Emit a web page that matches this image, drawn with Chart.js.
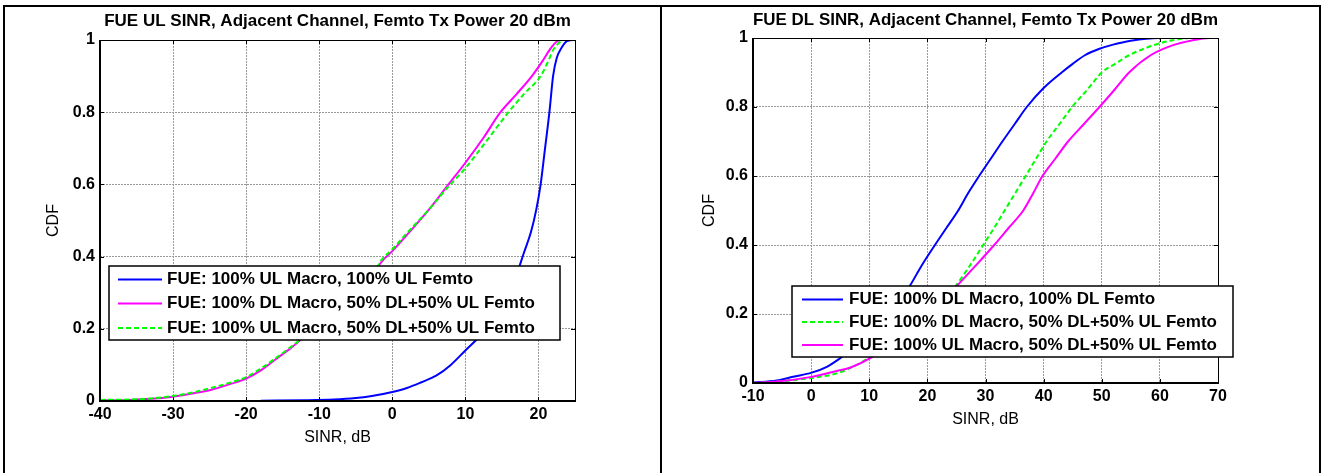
<!DOCTYPE html>
<html>
<head>
<meta charset="utf-8">
<script src="https://cdn.jsdelivr.net/npm/chart.js@4.4.1/dist/chart.umd.min.js"></script>
<style>
  body { margin: 0; background: #fff; width: 1321px; height: 473px; overflow: hidden; position: relative; }
  #frame { position: absolute; left: 3px; top: 5px; width: 1314px; height: 600px; border: 2px solid #000; }
  #divider { position: absolute; left: 660px; top: 5px; width: 2px; height: 600px; background: #000; }
  canvas { position: absolute; top: 0; }
</style>
</head>
<body>
<div id="frame"></div>
<div id="divider"></div>
<canvas id="ulChart" width="661" height="473" style="left:0"></canvas>
<canvas id="dlChart" width="660" height="473" style="left:661px"></canvas>
<script>
// ---- left panel: FUE UL SINR ----
const ulTitle = 'FUE UL SINR, Adjacent Channel, Femto Tx Power 20 dBm';
const ulLabels = [
  'FUE: 100% UL Macro, 100% UL Femto',
  'FUE: 100% DL Macro, 50% DL+50% UL Femto',
  'FUE: 100% UL Macro, 50% DL+50% UL Femto'
];
const ulBlueX = [-18, -12, -8, -5, -3, 0, 2, 4, 6, 8, 10, 12, 14, 15.5, 17, 18, 19, 19.7, 20.3, 20.9, 21.5, 22, 22.5, 23.2, 24, 25];
const ulBlueY = [0.001, 0.002, 0.004, 0.008, 0.013, 0.025, 0.036, 0.052, 0.07, 0.1, 0.14, 0.18, 0.23, 0.28, 0.35, 0.41, 0.47, 0.53, 0.6, 0.7, 0.8, 0.9, 0.95, 0.98, 0.998, 1.0];
const ulMagX = [-40, -36, -33, -30, -27, -25, -22, -20, -18, -16, -14, -12.5, -10, -7, -5, -3, -1.5, 0, 2, 5, 7.5, 10, 12.5, 14.8, 17, 19.1, 20.5, 21.5, 22.2, 22.7, 23];
const ulMagY = [0.002, 0.003, 0.006, 0.012, 0.022, 0.03, 0.048, 0.062, 0.085, 0.115, 0.145, 0.17, 0.22, 0.27, 0.3, 0.34, 0.385, 0.415, 0.46, 0.53, 0.595, 0.66, 0.73, 0.8, 0.85, 0.9, 0.94, 0.972, 0.99, 0.998, 1.0];
const ulGreenX = [-40, -36, -33, -30, -27, -25, -22, -20, -18, -16, -14, -12.5, -10, -7, -5, -3, -1.5, 0, 2, 5, 7.5, 10, 12.5, 15.9, 18, 20.3, 21.3, 22, 22.7, 23.3];
const ulGreenY = [0.003, 0.004, 0.007, 0.014, 0.025, 0.035, 0.052, 0.066, 0.09, 0.118, 0.148, 0.172, 0.22, 0.27, 0.3, 0.34, 0.39, 0.42, 0.465, 0.53, 0.59, 0.645, 0.71, 0.8, 0.85, 0.9, 0.94, 0.972, 0.99, 1.0];
const ulXTicks = [-40, -30, -20, -10, 0, 10, 20];

// ---- right panel: FUE DL SINR ----
const dlTitle = 'FUE DL SINR, Adjacent Channel, Femto Tx Power 20 dBm';
const dlLabels = [
  'FUE: 100% DL Macro, 100% DL Femto',
  'FUE: 100% DL Macro, 50% DL+50% UL Femto',
  'FUE: 100% UL Macro, 50% DL+50% UL Femto'
];
const dlBlueX = [-10, -5.9, -3.1, 0.1, 2.7, 5, 8, 11, 14, 17, 19, 21.3, 23.3, 25.3, 27, 28.9, 30.9, 32.9, 35, 37.1, 40, 43.1, 45, 47.1, 49.5, 51.8, 55, 59.8, 62];
const dlBlueY = [0.001, 0.007, 0.018, 0.03, 0.047, 0.072, 0.11, 0.15, 0.21, 0.282, 0.34, 0.4, 0.45, 0.5, 0.55, 0.6, 0.65, 0.7, 0.75, 0.8, 0.855, 0.9, 0.925, 0.95, 0.968, 0.98, 0.992, 1.0, 1.0];
const dlGreenX = [-10, -5.9, -0.2, 4.4, 7.8, 9.8, 13, 16, 19, 22, 24.9, 27.3, 29.6, 31.5, 33.3, 35.1, 36.9, 38.7, 40.5, 42.7, 44.9, 47.5, 50, 52.3, 54.7, 59.1, 62, 64.9];
const dlGreenY = [0, 0.004, 0.014, 0.028, 0.052, 0.072, 0.11, 0.145, 0.18, 0.225, 0.282, 0.34, 0.4, 0.45, 0.5, 0.55, 0.6, 0.65, 0.7, 0.75, 0.8, 0.85, 0.9, 0.925, 0.95, 0.98, 0.993, 1.0];
const dlMagX = [-10, -5.9, -0.2, 4.4, 6.8, 10.4, 13, 16, 19, 22, 25, 28.3, 31.5, 34, 36.5, 38.2, 39.8, 42, 44.2, 46.9, 49.6, 52.2, 54.7, 58.4, 62.4, 65.5, 68.5, 70];
const dlMagY = [0.001, 0.004, 0.017, 0.035, 0.045, 0.074, 0.105, 0.14, 0.18, 0.225, 0.28, 0.34, 0.4, 0.45, 0.5, 0.55, 0.6, 0.65, 0.7, 0.75, 0.8, 0.85, 0.9, 0.95, 0.98, 0.993, 1.0, 1.0];
const dlXTicks = [-10, 0, 10, 20, 30, 40, 50, 60, 70];

const cdfTicks = [0, 0.2, 0.4, 0.6, 0.8, 1];

const FONT = 'Arial, "Liberation Sans", Helvetica, sans-serif';
Chart.defaults.font.family = FONT;
Chart.defaults.color = '#000';

function toPoints(xs, ys) {
  return xs.map((x, i) => ({ x: x, y: ys[i] }));
}

function series(label, xs, ys, color, dash, order) {
  return {
    label: label,
    data: toPoints(xs, ys),
    borderColor: color,
    borderWidth: 2,
    borderDash: dash,
    pointRadius: 0,
    fill: false,
    cubicInterpolationMode: 'monotone',
    order: order
  };
}

// matlab style axes box, inner ticks and the boxed legend
const matlabBox = {
  id: 'matlabBox',
  afterDraw(chart, args, opts) {
    const { ctx, chartArea: a, scales } = chart;
    ctx.save();
    ctx.strokeStyle = '#000';
    ctx.lineWidth = 1;
    ctx.beginPath();
    scales.x.ticks.forEach(t => {
      const px = Math.round(scales.x.getPixelForValue(t.value)) + 0.5;
      ctx.moveTo(px, a.bottom); ctx.lineTo(px, a.bottom - 4);
      ctx.moveTo(px, a.top); ctx.lineTo(px, a.top + 4);
    });
    scales.y.ticks.forEach(t => {
      const py = Math.round(scales.y.getPixelForValue(t.value)) + 0.5;
      ctx.moveTo(a.left, py); ctx.lineTo(a.left + 4, py);
      ctx.moveTo(a.right, py); ctx.lineTo(a.right - 4, py);
    });
    ctx.stroke();
    ctx.strokeRect(a.left + 0.5, a.top + 0.5, a.width, a.height);
    ctx.lineWidth = 2;
    ctx.beginPath();
    ctx.moveTo(a.left, a.top);
    ctx.lineTo(a.left, a.bottom);
    ctx.lineTo(a.right, a.bottom);
    ctx.stroke();

    // legend
    const b = opts.box;
    ctx.fillStyle = '#fff';
    ctx.fillRect(b[0], b[1], b[2], b[3]);
    ctx.lineWidth = 1.5;
    ctx.strokeRect(b[0], b[1], b[2], b[3]);
    ctx.font = 'bold 17px ' + FONT;
    ctx.textBaseline = 'middle';
    chart.data.datasets.forEach((ds, i) => {
      const y = opts.rows[i];
      ctx.strokeStyle = ds.borderColor;
      ctx.lineWidth = ds.borderWidth;
      ctx.setLineDash(ds.borderDash || []);
      ctx.beginPath();
      ctx.moveTo(opts.lineX[0], y);
      ctx.lineTo(opts.lineX[1], y);
      ctx.stroke();
      ctx.setLineDash([]);
      ctx.fillStyle = '#000';
      ctx.fillText(ds.label, opts.textX, y);
    });
    ctx.restore();
  }
};

function makeOptions(o) {
  return {
    responsive: false,
    animation: false,
    layout: { padding: o.padding },
    plugins: {
      legend: { display: false },
      tooltip: { enabled: false },
      title: {
        display: true,
        text: o.title,
        fullSize: false,
        font: { size: 17, weight: 'bold' },
        padding: o.titlePad
      },
      matlabBox: o.legend
    },
    scales: {
      x: {
        type: 'linear',
        min: o.xMin,
        max: o.xMax,
        afterBuildTicks: s => { s.ticks = o.xTicks.map(v => ({ value: v })); },
        afterFit: s => { s.height = 50; },
        ticks: { font: { size: 16, weight: 'bold' }, padding: 4, maxRotation: 0, autoSkip: false },
        grid: { color: '#9a9a9a', lineWidth: 1, drawTicks: false },
        border: { display: false, dash: [2, 1] },
        title: { display: true, text: 'SINR, dB', font: { size: 16 }, padding: { top: 0, bottom: 4 } }
      },
      y: {
        min: 0,
        max: 1,
        afterBuildTicks: s => { s.ticks = cdfTicks.map(v => ({ value: v })); },
        afterFit: s => { s.width = o.yWidth; },
        ticks: { font: { size: 16, weight: 'bold' }, padding: 5, callback: v => String(v) },
        grid: { color: '#9a9a9a', lineWidth: 1, drawTicks: false },
        border: { display: false, dash: [2, 1] },
        title: { display: true, text: 'CDF', font: { size: 16 }, padding: { top: 0, bottom: 0 } }
      }
    }
  };
}

new Chart(document.getElementById('ulChart'), {
  type: 'line',
  data: {
    datasets: [
      series(ulLabels[0], ulBlueX, ulBlueY, '#0000ff', [], 3),
      series(ulLabels[1], ulMagX, ulMagY, '#ff00ff', [], 2),
      series(ulLabels[2], ulGreenX, ulGreenY, '#00ff00', [5, 3], 1)
    ]
  },
  options: makeOptions({
    title: ulTitle,
    titlePad: { top: 11.5, bottom: 8.1 },
    padding: { left: 44, right: 86, top: 0, bottom: 22 },
    yWidth: 56,
    xMin: -40, xMax: 25, xTicks: ulXTicks,
    legend: { box: [109, 266, 451, 74], rows: [279.5, 303.5, 328], lineX: [118, 162], textX: 167 }
  }),
  plugins: [matlabBox]
});

new Chart(document.getElementById('dlChart'), {
  type: 'line',
  data: {
    datasets: [
      series(dlLabels[0], dlBlueX, dlBlueY, '#0000ff', [], 3),
      series(dlLabels[1], dlGreenX, dlGreenY, '#00ff00', [5, 3], 2),
      series(dlLabels[2], dlMagX, dlMagY, '#ff00ff', [], 1)
    ]
  },
  options: makeOptions({
    title: dlTitle,
    titlePad: { top: 10, bottom: 7.6 },
    padding: { left: 39, right: 103, top: 0, bottom: 40 },
    yWidth: 53,
    xMin: -10, xMax: 70, xTicks: dlXTicks,
    legend: { box: [131, 286, 441, 71], rows: [299.5, 322, 345], lineX: [141, 182], textX: 188 }
  }),
  plugins: [matlabBox]
});
</script>
</body>
</html>
